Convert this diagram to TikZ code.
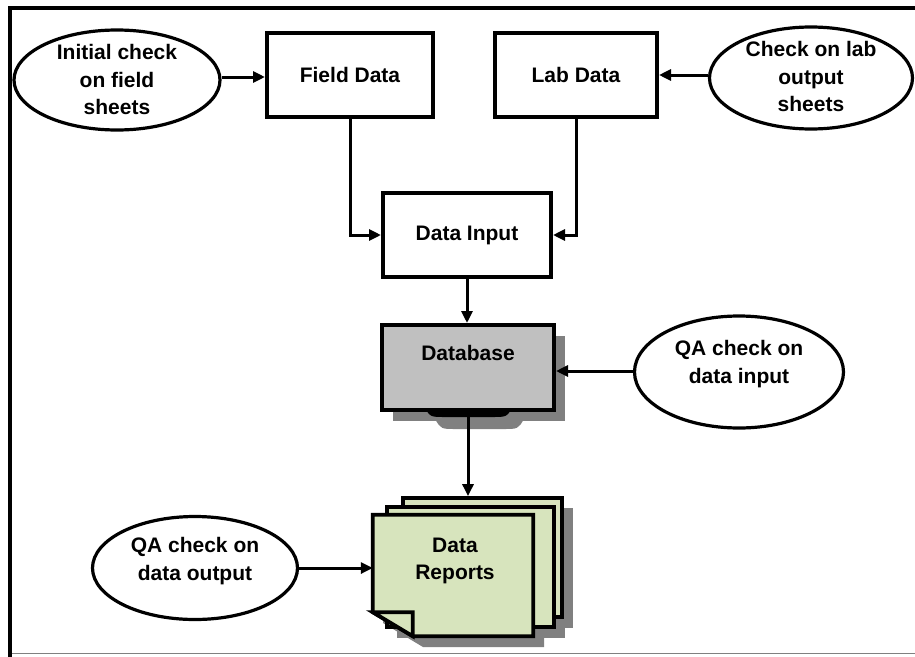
\documentclass[tikz,border=0pt]{standalone}
\usepackage{fontspec}
\setmainfont{Liberation Sans}
\usetikzlibrary{arrows.meta,shapes.geometric,calc}
\definecolor{dbgray}{HTML}{C0C0C0}
\definecolor{shadowgray}{HTML}{808080}
\definecolor{paper}{HTML}{D7E4BD}
\begin{document}
\begin{tikzpicture}[x=1pt,y=-1pt,
  txt/.style={font=\fontsize{21}{27.5}\selectfont\bfseries, align=center, inner sep=0pt},
  oval/.style={ellipse, draw, line width=3.2pt, inner sep=0pt},
  box/.style={rectangle, draw, line width=4pt, inner sep=0pt, font=\fontsize{21}{27.5}\selectfont\bfseries},
  pagebox/.style={draw, line width=3.8pt, fill=paper, line join=miter},
  arr/.style={line width=3pt, -{Triangle[length=12pt,width=11pt]}}
]
\useasboundingbox (0,0) rectangle (915,656);
% frame
\draw[line width=4pt] (10,660) -- (10,8) -- (920,8);
\draw[shadowgray, line width=1.5pt] (12,653.5) -- (915,653.5);

% top row
\node[oval, minimum width=206pt, minimum height=100pt] (init) at (117,80) {};
\node[txt] (initT) at (117,79.5) {Initial check\\on field\\sheets};
\node[box, minimum width=166pt, minimum height=84pt] (fd) at (350,75) {Field Data};
\node[box, minimum width=162pt, minimum height=84pt] (lab) at (576,75) {Lab Data};
\node[oval, minimum width=203pt, minimum height=102pt] (lcheck) at (811,78) {};
\node[txt] (lcheckT) at (811,76.5) {Check on lab\\output\\sheets};

% data input
\node[box, minimum width=168pt, minimum height=84pt] (di) at (467,235) {Data Input};

% database shadow + blob
\fill[shadowgray] (393,336) rectangle (565,421);
\fill[shadowgray] (435,419) .. controls (441,429) .. (456,429) -- (503,429) .. controls (518,429) .. (524,419) -- cycle;
\fill[black] (424,406) .. controls (430,417) .. (445,417) -- (492,417) .. controls (507,417) .. (513,406) -- cycle;
\node[box, fill=dbgray, minimum width=172pt, minimum height=85pt] (db) at (468,367.5) {};
\node[txt] (dbT) at (468,353) {Database};

% QA on data input
\node[oval, minimum width=209pt, minimum height=112pt] (qin) at (739,372) {};
\node[txt] (qinT) at (739,364) {QA check on\\data input};

% reports stack: shadows
\fill[shadowgray] (413,508) rectangle (573,628);
\fill[shadowgray] (397,517) rectangle (565,638);
\fill[shadowgray] (383,526) -- (544,526) -- (544,647) -- (423,647) -- (383,623) -- cycle;
% pages
\node[pagebox, minimum width=159pt, minimum height=119pt] (back) at (482.5,557.5) {};
\node[pagebox, minimum width=167pt, minimum height=120pt] (mid) at (470.5,567) {};
\node[minimum width=160pt, minimum height=121pt, inner sep=0pt] (front) at (453,575.5) {};
\filldraw[pagebox] (front.north west) -- (front.north east) -- (front.south east)
  -- ([xshift=40pt]front.south west) -- ([yshift=24pt]front.south west) -- cycle;
\filldraw[pagebox] ([yshift=24pt]front.south west) -- ([xshift=40pt,yshift=24pt]front.south west)
  -- ([xshift=40pt]front.south west) -- cycle;
\node[txt] (repT) at (455,561) {Data\\Reports};

% QA on data output
\node[oval, minimum width=205pt, minimum height=103pt] (qout) at (195,568) {};
\node[txt] (qoutT) at (195,561) {QA check on\\data output};

% connectors
\draw[arr] (init.east |- 0,77) -- (fd.west |- 0,77);
\draw[arr] (lcheck.west |- 0,75) -- (lab.east |- 0,75);
\draw[arr] (fd.south) |- (di.west);
\draw[arr] (lab.south) |- (di.east);
\draw[arr] (di.south) -- (di.south |- db.north);
\draw[arr] (qin.west |- 0,371) -- (db.east |- 0,371);
\draw[arr] (db.south) -- (back.north -| db.south);
\draw[arr] (qout.east) -- (front.west |- qout.east);
\end{tikzpicture}
\end{document}
